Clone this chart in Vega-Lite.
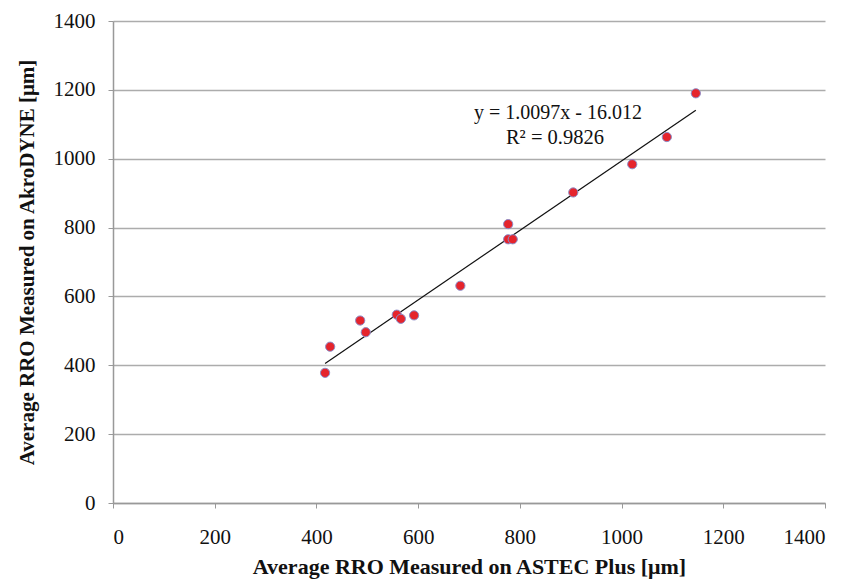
{
  "$schema": "https://vega.github.io/schema/vega-lite/v6.json",
  "width": 712,
  "height": 482,
  "autosize": {"type": "none"},
  "padding": {"left": 113, "top": 21, "right": 21, "bottom": 79},
  "background": "white",
  "config": {
    "view": {"stroke": null},
    "axis": {
      "labelFont": "Liberation Serif",
      "titleFont": "Liberation Serif",
      "labelFontSize": 21,
      "titleFontSize": 21,
      "titleFontWeight": "bold",
      "labelColor": "#111",
      "titleColor": "#111",
      "domainColor": "#999",
      "tickColor": "#999",
      "gridColor": "#acacac",
      "gridWidth": 1.5,
      "domainWidth": 1.5,
      "tickSize": 5
    }
  },
  "data": {
    "values": [
      {"astec": 417, "akro": 378},
      {"astec": 427, "akro": 454},
      {"astec": 486, "akro": 530},
      {"astec": 497, "akro": 496},
      {"astec": 558, "akro": 547},
      {"astec": 566, "akro": 535},
      {"astec": 592, "akro": 545},
      {"astec": 683, "akro": 631},
      {"astec": 777, "akro": 810},
      {"astec": 777, "akro": 766},
      {"astec": 786, "akro": 766},
      {"astec": 905, "akro": 902},
      {"astec": 1021, "akro": 984},
      {"astec": 1089, "akro": 1063},
      {"astec": 1146, "akro": 1190}
    ]
  },
  "layer": [
    {
      "data": {"values": [{"astec": 417, "akro": 405}, {"astec": 1146, "akro": 1141}]},
      "mark": {"type": "line", "color": "#111", "strokeWidth": 1.2},
      "encoding": {
        "x": {"field": "astec", "type": "quantitative"},
        "y": {"field": "akro", "type": "quantitative"}
      }
    },
    {
      "mark": {"type": "point", "filled": true, "fill": "#e5242c", "stroke": "#8c8cc8", "strokeWidth": 1, "size": 85, "opacity": 1},
      "encoding": {
        "x": {
          "field": "astec", "type": "quantitative",
          "scale": {"domain": [0, 1400], "nice": false},
          "axis": {"values": [0, 200, 400, 600, 800, 1000, 1200, 1400], "format": "d", "grid": false, "labelPadding": 18, "titleFontSize": 22, "title": "Average RRO Measured on ASTEC Plus [μm]", "titlePadding": 9}
        },
        "y": {
          "field": "akro", "type": "quantitative",
          "scale": {"domain": [0, 1400], "nice": false},
          "axis": {"values": [0, 200, 400, 600, 800, 1000, 1200, 1400], "format": "d", "grid": true, "labelPadding": 13, "title": "Average RRO Measured on AkroDYNE [μm]", "titlePadding": 16}
        }
      }
    },
    {
      "data": {"values": [{"t": "y = 1.0097x - 16.012"}]},
      "mark": {"type": "text", "font": "Liberation Serif", "fontSize": 20, "color": "#111", "align": "center", "baseline": "middle"},
      "encoding": {
        "x": {"datum": 875, "type": "quantitative"},
        "y": {"datum": 1134, "type": "quantitative"},
        "text": {"field": "t"}
      }
    },
    {
      "data": {"values": [{"t": "R² = 0.9826"}]},
      "mark": {"type": "text", "font": "Liberation Serif", "fontSize": 20.5, "color": "#111", "align": "center", "baseline": "middle"},
      "encoding": {
        "x": {"datum": 869, "type": "quantitative"},
        "y": {"datum": 1059, "type": "quantitative"},
        "text": {"field": "t"}
      }
    }
  ]
}
